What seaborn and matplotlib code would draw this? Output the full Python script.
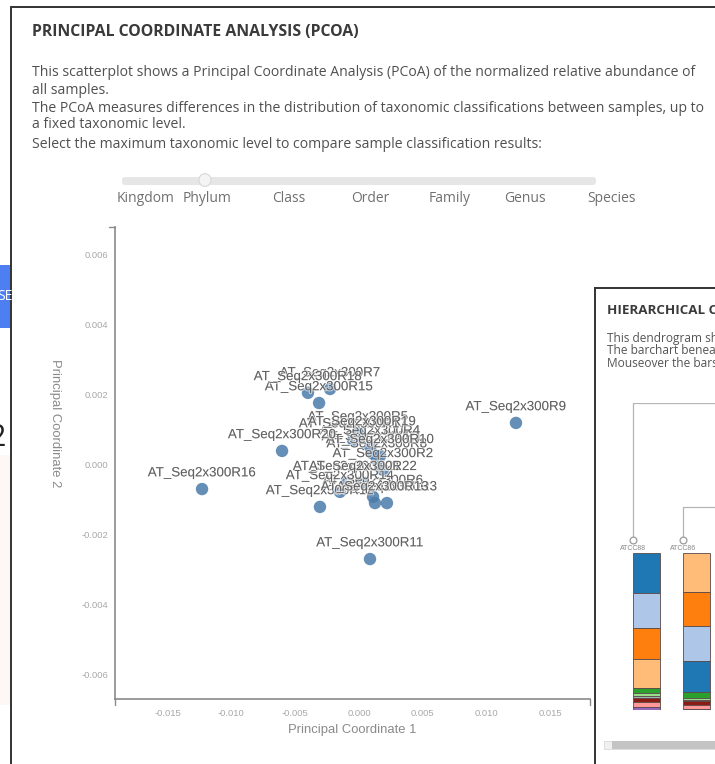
import matplotlib
matplotlib.use("Agg")
import matplotlib.pyplot as plt
import matplotlib.patheffects as pe
from matplotlib.patches import Rectangle, Circle, FancyBboxPatch
from matplotlib.lines import Line2D
import numpy as np
import pandas as pd
import seaborn as sns

# ---- PCoA sample coordinates ----
samples = [f"AT_Seq2x300R{i}" for i in range(1, 23)]
pc1 = [0.00102, 0.00188, 0.00219, 0.00086, -0.00008, 0.00110, -0.00227, 0.00141,
       0.01230, 0.00165, 0.00086, -0.00306, 0.00125, -0.00149, -0.00313, -0.01230,
       -0.00047, -0.00400, 0.00024, -0.00603, -0.00094, 0.00031]
pc2 = [0.00034, -0.00014, -0.00109, 0.00051, 0.00091, -0.00091, 0.00217, 0.00014,
       0.00120, 0.00026, -0.00269, -0.00120, -0.00109, -0.00077, 0.00177, -0.00069,
       0.00071, 0.00206, 0.00077, 0.00040, -0.00051, -0.00051]

x_ticks = [-0.015, -0.010, -0.005, 0.000, 0.005, 0.010, 0.015]
y_ticks = [-0.006, -0.004, -0.002, 0.000, 0.002, 0.004, 0.006]
tax_levels = ["Kingdom", "Phylum", "Class", "Order", "Family", "Genus", "Species"]

# ---- hierarchical clustering panel ----
leaf_names = ["ATCC88", "ATCC86"]
merge_heights = [1.0, 0.24]
bar_colors = ["#1f77b4", "#aec7e8", "#ff7f0e", "#ffbb78", "#2ca02c",
              "#98df8a", "#9fb7b0", "#8c1c13", "#ff9896", "#9467bd"]
# relative abundance (%) per taxon, listed top to bottom
bar1_taxa = [0, 1, 2, 3, 4, 5, 6, 7, 8, 9]
bar1_vals = [25.5, 22.3, 19.7, 18.5, 3.2, 1.9, 1.3, 2.5, 3.2, 1.9]
bar2_taxa = [3, 2, 1, 0, 4, 5, 6, 7, 8, 9]
bar2_vals = [24.8, 21.7, 22.3, 19.7, 3.8, 1.3, 0.7, 2.5, 2.3, 0.9]

W, H = 715, 764
sns.set_theme(style="white")
plt.rcParams["font.family"] = ["Liberation Sans", "DejaVu Sans"]

fig = plt.figure(figsize=(W / 100, H / 100), dpi=100)
fig.patch.set_facecolor("white")


def rect(x0, y0, x1, y1):
    return [x0 / W, 1 - y1 / H, (x1 - x0) / W, (y1 - y0) / H]


def fx(x):
    return x / W


def fy(y):
    return 1 - y / H


# ---- page behind the card (left strip) ----
fig.patches.append(Rectangle((fx(0), fy(328)), fx(11), 63 / H, transform=fig.transFigure,
                             facecolor="#4d7ef2", edgecolor="none", zorder=0))
fig.text(fx(-3), fy(297), "SE", color="white", fontsize=10, va="center", ha="left",
         family="Open Sans")
fig.patches.append(Rectangle((fx(0), fy(705)), fx(11), 250 / H, transform=fig.transFigure,
                             facecolor="#fdf7f5", edgecolor="none", zorder=0))
fig.text(fx(-12), fy(438), "2", color="#222", fontsize=22, va="center", ha="left",
         family="Open Sans")

# ---- card borders ----
fig.add_artist(Line2D([fx(11), fx(11)], [fy(7), fy(764)], color="#333", lw=1.4))
fig.add_artist(Line2D([fx(11), fx(715)], [fy(7), fy(7)], color="#333", lw=1.4))

# ---- header texts ----
fig.text(fx(32), fy(32), "PRINCIPAL COORDINATE ANALYSIS (PCOA)", fontsize=11.4,
         fontweight="bold", color="#3a3a3a", va="center", family="Open Sans")
para = [
    ("This scatterplot shows a Principal Coordinate Analysis (PCoA) of the normalized relative abundance of", 73),
    ("all samples.", 90),
    ("The PCoA measures differences in the distribution of taxonomic classifications between samples, up to", 108),
    ("a fixed taxonomic level.", 125),
    ("Select the maximum taxonomic level to compare sample classification results:", 144),
]
for txt, yy in para:
    fig.text(fx(32), fy(yy), txt, fontsize=10.05, color="#505050", va="center",
             family="Open Sans")

# ---- taxonomic level slider ----
fig.patches.append(FancyBboxPatch((fx(122), fy(185)), fx(474), 8 / H,
                                  boxstyle="round,pad=0,rounding_size=0.004",
                                  transform=fig.transFigure, facecolor="#e6e6e6",
                                  edgecolor="none"))
fig.patches.append(Circle((fx(205), fy(180)), 6 / W, transform=fig.transFigure,
                          facecolor="#f4f4f4", edgecolor="#d8d8d8", lw=0.8))
lvl_x = [146, 207, 289, 370, 450, 525, 611]
for name, xx in zip(tax_levels, lvl_x):
    fig.text(fx(xx), fy(199), name, fontsize=10, color="#707070", ha="center",
             va="center", family="Open Sans")

# ---- PCoA scatter ----
df = pd.DataFrame({"sample": samples, "PC1": pc1, "PC2": pc2})
ax = fig.add_axes(rect(115, 227, 590, 699))
ax.set_facecolor("none")
sns.scatterplot(data=df, x="PC1", y="PC2", ax=ax, s=80, color="#4a7bab",
                alpha=0.85, edgecolor="none", zorder=3, legend=False)
ax.set_xlim(-0.01912, 0.01810)
ax.set_ylim(-0.00669, 0.00680)
ax.set_xticks(x_ticks)
ax.set_yticks(y_ticks)
ax.set_xticklabels([f"{v:.3f}" for v in x_ticks])
ax.set_yticklabels([f"{v:.3f}" for v in y_ticks])
ax.tick_params(axis="both", length=0, labelsize=6.8, labelcolor="#a8a8a8")
ax.tick_params(axis="y", pad=5)
ax.tick_params(axis="x", pad=7)
for side in ("top", "right"):
    ax.spines[side].set_visible(False)
for side in ("left", "bottom"):
    ax.spines[side].set_color("#8a8a8a")
    ax.spines[side].set_linewidth(1.2)
ax.set_xlabel("Principal Coordinate 1", fontsize=9.4, color="#8a8a8a")
ax.set_ylabel("Principal Coordinate 2", fontsize=9.4, color="#8a8a8a", rotation=-90)
ax.xaxis.set_label_coords(0.5, -0.066)
ax.yaxis.set_label_coords(-0.126, 0.585)
ax.xaxis.label.set_va("center")
ax.yaxis.label.set_va("center")

# outer ticks at the ends of each axis
fig.add_artist(Line2D([fx(109), fx(115)], [fy(227), fy(227)], color="#8a8a8a", lw=1.0))
fig.add_artist(Line2D([fx(115), fx(115)], [fy(699), fy(705)], color="#8a8a8a", lw=1.0))
fig.add_artist(Line2D([fx(590), fx(590)], [fy(699), fy(705)], color="#8a8a8a", lw=1.0))

halo = [pe.withStroke(linewidth=1.5, foreground=(1, 1, 1, 0.6))]
for name, x, y in zip(samples, pc1, pc2):
    ax.annotate(name, (x, y), xytext=(0, 7), textcoords="offset points",
                ha="center", va="bottom", fontsize=9.6, color="#616161",
                zorder=4, path_effects=halo)

# ---- overlapping hierarchical clustering card ----
card = fig.add_axes(rect(595, 288, 715, 764))
card.set_xlim(0, 1)
card.set_ylim(0, 1)
card.set_facecolor("white")
card.set_xticks([])
card.set_yticks([])
for side in ("right", "bottom"):
    card.spines[side].set_visible(False)
for side in ("left", "top"):
    card.spines[side].set_color("#333")
    card.spines[side].set_linewidth(1.4)
card.set_zorder(5)

fig.text(fx(607), fy(310), "HIERARCHICAL CLUSTERING", fontsize=9.6, fontweight="bold",
         color="#3a3a3a", va="center", family="Open Sans", zorder=6)
for txt, yy in [("This dendrogram shows the hierarchical clustering", 339),
                ("The barchart beneath shows the relative abundance", 351),
                ("Mouseover the bars to see the details", 363)]:
    fig.text(fx(607), fy(yy), txt, fontsize=8.6, color="#555", va="center",
             family="Open Sans", zorder=6)

# scrollbar
fig.patches.append(Rectangle((fx(604), fy(749)), fx(111), 8 / H, transform=fig.transFigure,
                             facecolor="#f0f0f0", edgecolor="#dadada", lw=0.6, zorder=6))
fig.patches.append(Rectangle((fx(612), fy(749)), fx(103), 8 / H, transform=fig.transFigure,
                             facecolor="#c4c4c4", edgecolor="none", zorder=6))

# leaves sit at 633 px and 683 px
x_lo = -13 / 50
x_hi = (715 - 633) / 50

# dendrogram
dend = fig.add_axes(rect(620, 403, 715, 540))
dend.set_zorder(6)
dend.axis("off")
dend.set_xlim(x_lo, x_hi)
dend.set_ylim(0, 1)
leaf_pos = np.arange(len(leaf_names))
for pos, h in zip(leaf_pos, merge_heights):
    dend.plot([pos, pos], [0.03, h], color="#b5b5b5", lw=0.9, clip_on=False)
    dend.plot([pos, x_hi + 1], [h, h], color="#b5b5b5", lw=0.9)
dend.scatter(leaf_pos, [0.0] * len(leaf_pos), s=24, facecolor="white",
             edgecolor="#9a9a9a", lw=0.9, zorder=3, clip_on=False)
for pos, name in zip(leaf_pos, leaf_names):
    dend.annotate(name, (pos, 0), xytext=(0, -6), textcoords="offset points",
                  ha="center", va="center", fontsize=5, color="#888",
                  annotation_clip=False)

# stacked abundance bars, left edge at each leaf
bars = fig.add_axes(rect(620, 553, 715, 710))
bars.set_zorder(6)
bars.axis("off")
bars.set_xlim(x_lo, x_hi)
bars.set_ylim(100, 0)
for pos, taxa, vals in [(0, bar1_taxa, bar1_vals), (1, bar2_taxa, bar2_vals)]:
    bottom = 0.0
    for t, v in zip(taxa, vals):
        bars.bar(pos, v, bottom=bottom, width=0.53, align="edge", color=bar_colors[t],
                 edgecolor="#5a4a4a", linewidth=0.6)
        bottom += v

fig.savefig("out.png", dpi=100, facecolor="white")
